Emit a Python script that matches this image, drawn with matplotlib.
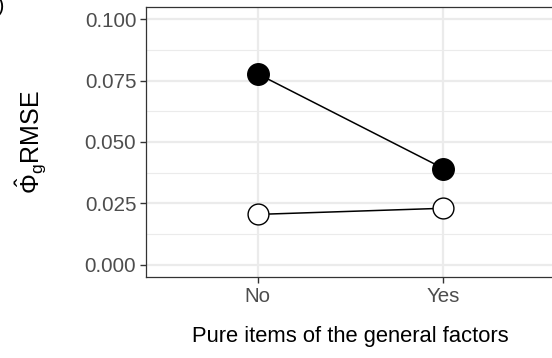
import matplotlib.pyplot as plt
import numpy as np

# pure items of the general factors (x categories)
categories = ["No", "Yes"]
# RMSE of Phi_g estimates, two conditions
filled_values = [0.0778, 0.0392]
open_values = [0.0205, 0.0230]

y_ticks = [0.000, 0.025, 0.050, 0.075, 0.100]
y_tick_labels = ["0.000", "0.025", "0.050", "0.075", "0.100"]

plt.rcParams['font.family'] = ['Liberation Sans', 'DejaVu Sans']
plt.rcParams['mathtext.fontset'] = 'custom'
plt.rcParams['mathtext.rm'] = 'Liberation Sans'
plt.rcParams['mathtext.it'] = 'Liberation Sans'

W, H = 552, 358
fig = plt.figure(figsize=(W / 100, H / 100), dpi=100)

# panel box in pixels: left 146, right 555 (runs past the edge), top 7, bottom 277
ax = fig.add_axes([146 / W, (H - 277) / H, (555 - 146) / W, (277 - 7) / H])

x = np.arange(1, len(categories) + 1)

# grid lines like theme_bw
grid_col = '#EBEBEB'
for yv in y_ticks:
    ax.axhline(yv, color=grid_col, lw=1.6, zorder=0)
for yv in np.arange(0.0125, 0.1, 0.025):
    ax.axhline(yv, color=grid_col, lw=0.8, zorder=0)
for xv in x:
    ax.axvline(xv, color=grid_col, lw=1.6, zorder=0)

ax.plot(x, filled_values, color='black', lw=1.1, marker='o', markersize=15.5,
        markerfacecolor='black', markeredgecolor='black', markeredgewidth=1, zorder=3)
ax.plot(x, open_values, color='black', lw=1.1, marker='o', markersize=15,
        markerfacecolor='white', markeredgecolor='black', markeredgewidth=1, zorder=3)

ax.set_xlim(0.4, 2.6)
ax.set_ylim(-0.005, 0.105)
ax.set_xticks(x)
ax.set_xticklabels(categories)
ax.set_yticks(y_ticks)
ax.set_yticklabels(y_tick_labels)

ax.tick_params(axis='both', colors='#333333', labelcolor='#4D4D4D',
               labelsize=14.8, length=4, width=1)
ax.tick_params(axis='y', pad=3)
ax.tick_params(axis='x', pad=3)

for side in ['top', 'bottom', 'left', 'right']:
    ax.spines[side].set_color('#333333')
    ax.spines[side].set_linewidth(0.9)

ax.set_xlabel("Pure items of the general factors", fontsize=15.8, color='black')
ax.xaxis.set_label_coords(0.5, -(326 - 277) / 270)
ax.set_ylabel(r"$\hat{\Phi}_{g}$RMSE", fontsize=18, color='black')
ax.yaxis.set_label_coords(-(146 - 49) / 409, 0.5)

# panel tag cut off at the left edge of the picture
fig.text(5 / W, 1 + 3 / H, "b)", fontsize=15, ha='right', va='top')

fig.savefig("out.png", dpi=100)
